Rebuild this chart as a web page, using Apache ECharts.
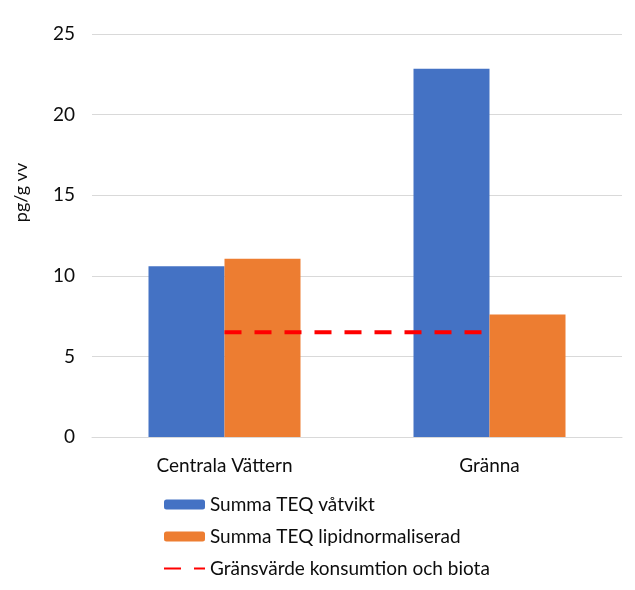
<!DOCTYPE html>
<html>
<head>
<meta charset="utf-8">
<script src="https://cdn.jsdelivr.net/npm/echarts@6/dist/echarts.min.js"></script>
<style>
  html, body { margin: 0; padding: 0; background: #fff; }
  #chart { width: 635px; height: 590px; }
</style>
</head>
<body>
<div id="chart"></div>
<script>
// data
const categories = ["Centrala Vättern", "Gränna"];
const vatvikt = [10.6, 22.85];
const lipid = [11.05, 7.6];
const gransvarde = [6.5, 6.5];
const seriesNames = [
  "Summa TEQ våtvikt",
  "Summa TEQ lipidnormaliserad",
  "Gränsvärde konsumtion och biota"
];

const font = "Lato, 'Open Sans', sans-serif";
const textColor = "#0d0d0d";
const chart = echarts.init(document.getElementById("chart"));

chart.setOption({
  animation: false,
  textStyle: { fontFamily: font },
  grid: { left: 92, right: 13, top: 34, bottom: 153 },
  legend: {
    orient: "vertical",
    left: 158,
    top: 490,
    itemWidth: 41,
    itemHeight: 10,
    itemGap: 13,
    textStyle: { fontSize: 19, color: textColor, fontFamily: font },
    data: seriesNames
  },
  xAxis: {
    type: "category",
    data: categories,
    axisTick: { show: false },
    axisLine: { lineStyle: { color: "#d9d9d9", width: 1 } },
    axisLabel: { fontSize: 19, color: textColor, margin: 19 }
  },
  yAxis: {
    type: "value",
    min: 0,
    max: 25,
    interval: 5,
    name: "pg/g vv",
    nameLocation: "middle",
    nameGap: 62,
    nameTextStyle: { fontSize: 18, color: textColor, padding: [0, 0, 0, 86] },
    axisLine: { show: false },
    axisTick: { show: false },
    axisLabel: { fontSize: 19, color: textColor, margin: 17 },
    splitLine: { lineStyle: { color: "#d9d9d9", width: 1 } }
  },
  series: [
    {
      name: seriesNames[0],
      type: "bar",
      data: vatvikt,
      barWidth: 76,
      barGap: "0%",
      itemStyle: { color: "#4472c4" }
    },
    {
      name: seriesNames[1],
      type: "bar",
      data: lipid,
      barWidth: 76,
      barGap: "0%",
      itemStyle: { color: "#ed7d31" }
    },
    {
      name: seriesNames[2],
      type: "line",
      data: gransvarde,
      symbol: "none",
      itemStyle: { color: "#ff0000", opacity: 0 },
      lineStyle: { color: "#ff0000", width: 4, type: [17, 13], opacity: 1 },
      z: 5
    }
  ]
});
</script>
</body>
</html>
